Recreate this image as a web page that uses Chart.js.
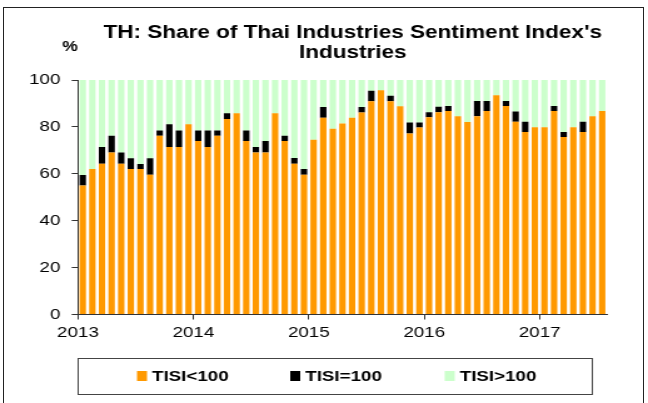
<!DOCTYPE html>
<html>
<head>
<meta charset="utf-8">
<script src="https://cdn.jsdelivr.net/npm/chart.js@4/dist/chart.umd.min.js"></script>
<style>
    html, body { margin: 0; padding: 0; background: #fff; }
    body { position: relative; width: 648px; height: 403px; overflow: hidden; }
    #frame { position: absolute; left: 3px; top: 7px; width: 641px; height: 420px; border: 1px solid #222; box-sizing: border-box; }
    #chart { position: absolute; left: 0; top: 0; }
</style>
</head>
<body>
<div id="frame"></div>
<!-- the original is stretched sideways, so draw narrow and widen with css -->
<canvas id="chart" width="518" height="403" style="width:648px;height:403px"></canvas>
<script>
const titleLines = ["TH: Share of Thai Industries Sentiment Index's", "Industries"];
const unitLabel = "%";
const startYear = 2013;
const yearTicks = [2013, 2014, 2015, 2016, 2017];
const seriesNames = ["TISI<100", "TISI=100", "TISI>100"];
const seriesColors = ["#FF9900", "#000000", "#CCFFCC"];

// monthly shares, Jan 2013 .. Jul 2017
const below100 = [
    55, 62, 64.3, 69.1, 64.3, 62, 62, 59.6, 76.2, 71.4, 71.4, 81.1,
    74, 71.4, 76.2, 83.4, 85.8, 74, 69.1, 69.1, 85.8, 74, 64.3, 59.6,
    74.5, 83.9, 79.2, 81.5, 83.9, 86.1, 90.9, 95.6, 90.9, 88.8, 77.2, 79.7,
    84.1, 86.3, 86.8, 84.5, 82.1, 84.5, 86.8, 93.5, 88.9, 82.2, 77.8, 79.9,
    79.9, 86.8, 75.7, 79.9, 77.8, 84.5, 86.8
];
const equal100 = [
    4.5, 0, 7.1, 7.1, 4.8, 4.6, 2.2, 7.0, 2.3, 9.7, 7.1, 0,
    4.5, 7.1, 2.3, 2.4, 0, 4.5, 2.3, 4.9, 0, 2.2, 2.4, 2.4,
    0, 4.6, 0, 0, 0, 2.4, 4.5, 0, 2.4, 0, 4.7, 2.2,
    2.2, 2.3, 2.1, 0, 0, 6.5, 4.2, 0, 2.1, 4.4, 4.4, 0,
    0, 2.1, 2.1, 0, 4.4, 0, 0
];
const above100 = below100.map((v, i) => Math.max(0, 100 - v - equal100[i]));

// bar sits in the middle of its month
const monthX = (i) => startYear + (i + 0.5) / 12;
const toPoints = (arr) => arr.map((v, i) => ({ x: monthX(i), y: v }));

const FONT = '"Liberation Sans", Arial, sans-serif';

const decorations = {
    id: 'decorations',
    afterDraw(chart) {
        const ctx = chart.ctx;
        ctx.save();
        ctx.fillStyle = '#000';
        ctx.textAlign = 'center';
        ctx.textBaseline = 'middle';
        ctx.font = 'bold 18px ' + FONT;
        ctx.fillText(titleLines[0], 282, 33);
        ctx.fillText(titleLines[1], 282, 53);
        ctx.font = 'bold 14px ' + FONT;
        ctx.fillText(unitLabel, 56, 47);

        // legend box
        ctx.strokeStyle = '#444';
        ctx.lineWidth = 1;
        ctx.strokeRect(62.5, 358.5, 411, 36);
        const itemX = [109.5, 232, 355.5];
        ctx.font = 'bold 15px ' + FONT;
        ctx.textAlign = 'left';
        for (let i = 0; i < seriesNames.length; i++) {
            ctx.fillStyle = seriesColors[i];
            ctx.fillRect(itemX[i], 371, 8, 10);
            ctx.fillStyle = '#000';
            ctx.fillText(seriesNames[i], itemX[i] + 12, 376.5);
        }
        ctx.restore();
    }
};

const datasets = [below100, equal100, above100].map((arr, i) => ({
    label: seriesNames[i],
    data: toPoints(arr),
    backgroundColor: seriesColors[i],
    borderWidth: 0,
    barPercentage: 0.667,
    categoryPercentage: 1
}));

new Chart(document.getElementById('chart'), {
    type: 'bar',
    data: { datasets: datasets },
    plugins: [decorations],
    options: {
        responsive: false,
        animation: false,
        layout: { padding: { left: 12.3, right: 32.8, top: 80, bottom: 58.5 } },
        plugins: {
            legend: { display: false },
            title: { display: false },
            tooltip: { enabled: false }
        },
        scales: {
            x: {
                type: 'linear',
                stacked: true,
                offset: false,
                min: startYear,
                max: startYear + below100.length / 12,
                afterFit(scale) { scale.height = 30; },
                afterBuildTicks(scale) { scale.ticks = yearTicks.map(v => ({ value: v })); },
                grid: { display: true, offset: false, drawOnChartArea: false, drawTicks: true, tickLength: 5, color: '#333' },
                border: { display: true, color: '#333' },
                ticks: {
                    color: '#000',
                    font: { family: FONT, size: 15 },
                    padding: 4,
                    maxRotation: 0,
                    autoSkip: false,
                    callback: (v) => String(v)
                }
            },
            y: {
                stacked: true,
                min: 0,
                max: 100,
                afterFit(scale) { scale.width = 50; },
                grid: { display: true, drawOnChartArea: false, drawTicks: true, tickLength: 5, color: '#333' },
                border: { display: true, color: '#333' },
                ticks: {
                    stepSize: 20,
                    color: '#000',
                    font: { family: FONT, size: 15 },
                    padding: 9
                }
            }
        }
    }
});
</script>
</body>
</html>
